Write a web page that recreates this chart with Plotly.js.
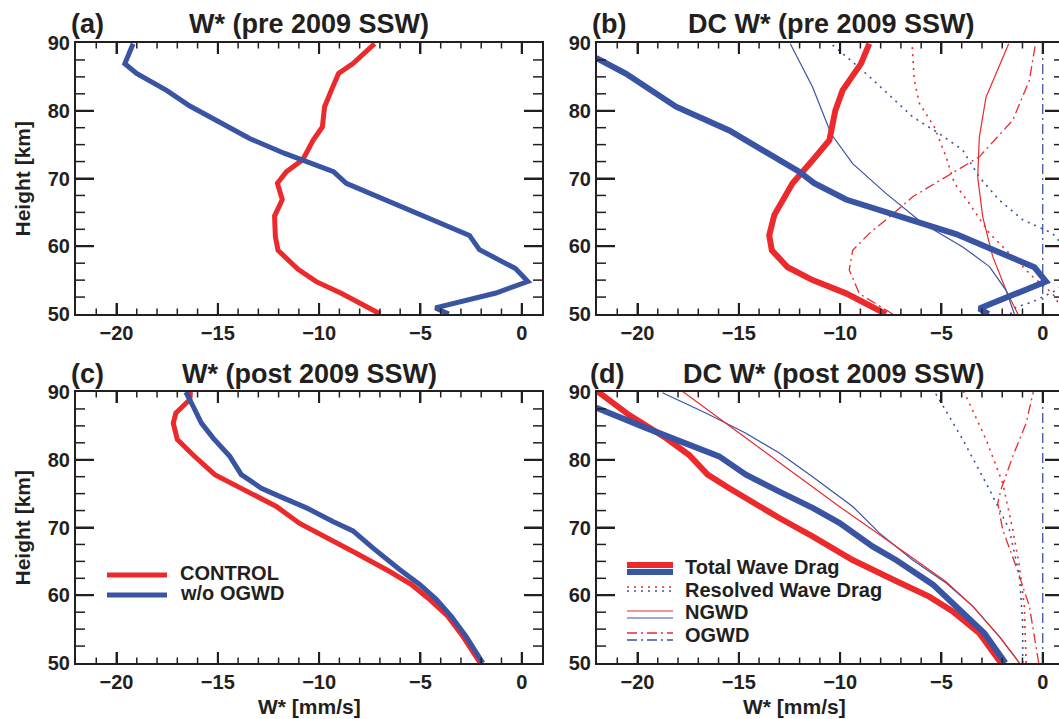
<!DOCTYPE html>
<html>
<head>
<meta charset="utf-8">
<script src="https://cdn.plot.ly/plotly-3.0.1.min.js"></script>
<style>
html,body{margin:0;padding:0;overflow:hidden;background:#fff;}
#wrap{position:relative;width:1064px;height:719px;}
.layer{position:absolute;left:0;top:0;width:1064px;height:719px;}
#ov{pointer-events:none;}
</style>
</head>
<body>
<div id="wrap">
  <div id="pa" class="layer"></div>
  <div id="pb" class="layer"></div>
  <div id="pc" class="layer"></div>
  <div id="pd" class="layer"></div>
  <div id="ov" class="layer"></div>
</div>
<script>
// ---------- DATA (W* in mm/s vs height in km) ----------
// (a) pre 2009 SSW
const preControlX = [-6.98,-8.91,-10.14,-11.04,-12.03,-12.16,-12.2,-11.82,-12.06,-11.62,-10.8,-10.3,-9.84,-9.73,-9.4,-9.04,-8.33,-7.76,-7.26];
const preControlZ = [50,53.05,54.77,56.6,59.4,61.4,64.45,66.9,69.3,71.0,72.8,75.65,77.6,80.6,83.0,85.5,86.95,88.4,89.9];
const preNoOgwdX = [-3.6,-4.26,-1.27,0.30,-0.31,-2.09,-2.58,-8.66,-9.29,-10.63,-11.7,-13.43,-14.74,-16.38,-17.53,-19.01,-19.59,-19.34,-19.18];
const preNoOgwdZ = [50,50.9,53.1,54.8,56.7,59.5,61.6,69.3,71.0,72.5,73.7,75.9,78.1,80.7,83.0,85.5,86.95,88.9,89.9];

// (c) post 2009 SSW
const postControlX = [-2.05,-2.9,-3.65,-4.63,-5.46,-6.52,-8.17,-9.81,-10.96,-12.11,-13.59,-15.15,-16.22,-17.0,-17.2,-17.07,-16.38,-16.35];
const postControlZ = [50,53.9,56.9,59.6,61.6,63.5,66.2,68.9,70.6,73.1,75.3,77.8,80.7,83.0,85.4,86.9,88.9,90];
const postNoOgwdX = [-1.92,-2.74,-3.48,-4.22,-5.04,-6.03,-7.35,-8.33,-9.32,-10.63,-11.95,-12.85,-13.84,-14.41,-15.23,-15.81,-16.22,-16.58];
const postNoOgwdZ = [50,53.9,56.9,59.4,61.6,63.8,67.0,69.5,70.9,72.9,74.6,75.8,77.8,80.5,83.2,85.4,87.9,90];

// (b) DC W* pre 2009 SSW
const bTotCtlX = [-7.74,-9.71,-11.36,-12.59,-13.37,-13.5,-13.25,-12.35,-11.36,-10.53,-10.24,-9.88,-8.97,-8.56];
const bTotCtlZ = [50,53.05,55.0,56.9,59.4,61.6,64.6,69.3,72.7,75.65,80.0,83.0,86.95,89.9];
const bTotNoX = [-2.67,-3.13,0.16,-0.41,-4.28,-5.43,-9.71,-11.28,-12.02,-15.47,-18.1,-20.58,-21.98,-23.0];
const bTotNoZ = [50,50.8,54.8,56.9,61.8,62.9,66.9,69.3,71.0,77.1,80.6,85.5,87.7,88.3];
const bResCtlX = [1.1,0.8,0.49,-0.49,-1.48,-2.63,-3.62,-4.36,-4.77,-5.35,-6.09,-6.34,-6.45];
const bResCtlZ = [50,51.5,53.0,55.5,58.5,61.9,66.3,69.3,73.2,77.6,81.1,84.5,89.9];
const bResNoX = [-1.6,-1.32,-0.49,0.66,1.3,1.3,0.49,-0.99,-2.14,-3.13,-3.95,-5.1,-6.42,-8.72,-10.45];
const bResNoZ = [50,51.0,51.8,53.5,55,59,61.9,63.9,66.8,70.2,74.2,76.6,79.1,85.5,89.9];
const bNgwdCtlX = [-1.23,-1.81,-2.47,-2.96,-3.21,-3.13,-2.80,-1.68];
const bNgwdCtlZ = [50,53.5,58.5,64.3,70.2,76.1,82.0,89.9];
const bNgwdNoX = [-1.40,-1.81,-2.63,-3.95,-5.93,-7.74,-9.38,-10.45,-11.36,-12.46];
const bNgwdNoZ = [50,53.5,57.0,59.9,63.4,67.8,72.2,76.6,83.5,89.9];
const bOgwdCtlX = [-7.41,-9.05,-9.55,-9.38,-8.56,-7.57,-6.42,-4.77,-3.13,-1.48,-0.66,-0.36];
const bOgwdCtlZ = [50,53.0,56.5,59.4,61.9,64.3,67.3,70.2,73.2,78.6,84.5,89.9];
const bOgwdNoX = [0,0];
const bOgwdNoZ = [50,90];

// (d) DC W* post 2009 SSW
const dTotCtlX = [-2.06,-3.13,-4.44,-5.6,-7.24,-9.38,-11.36,-13.0,-15.47,-16.54,-17.45,-18.6,-20.41,-21.98];
const dTotCtlZ = [50,54.4,57.6,59.8,62.1,65.2,68.7,71.4,75.8,77.8,80.7,83.2,86.6,90.1];
const dTotNoX = [-1.84,-2.88,-4.12,-5.43,-7.24,-8.40,-10.04,-11.36,-13.0,-14.65,-15.97,-17.94,-19.59,-21.98,-23.0];
const dTotNoZ = [50,54.4,57.9,61.6,65.2,67.2,70.7,72.9,75.3,77.8,80.5,82.7,84.7,87.6,88.1];
const dResCtlX = [-0.82,-0.91,-1.15,-1.48,-1.98,-2.8,-3.79,-3.9];
const dResCtlZ = [50,58.4,64.3,69.7,76.6,83,89.4,90];
const dResNoX = [-0.99,-0.99,-1.15,-1.65,-2.63,-3.95,-5.35];
const dResNoZ = [50,55.9,62.8,69.7,75.6,83,90.1];
const dNgwdCtlX = [-1.15,-2.14,-3.46,-4.77,-6.42,-8.4,-10.04,-12.18,-14.16,-15.64,-17.78];
const dNgwdCtlZ = [50,53.9,58.4,62.0,65.5,69.7,73.1,77.8,82.2,85.4,90.1];
const dNgwdNoX = [-1.15,-2.14,-3.46,-4.77,-6.42,-8.07,-9.38,-11.36,-13.0,-14.65,-16.63,-18.77];
const dNgwdNoZ = [50,53.9,58.4,61.8,65.2,69.2,73.1,77.5,81.0,83.9,86.9,89.9];
const dOgwdCtlX = [-0.2,-0.66,-1.32,-1.98,-2.22,-2.06,-1.48,-0.82,-0.46];
const dOgwdCtlZ = [50,58.4,64.3,69.7,73.6,75.6,80.5,85.4,90.1];
const dOgwdNoX = [0,0];
const dOgwdNoZ = [50,90];

// axis tick positions
const xMajorTicks = [-20,-15,-10,-5,0];
const xMinorTicks = [-21,-19,-18,-17,-16,-14,-13,-12,-11,-9,-8,-7,-6,-4,-3,-2,-1];
const yMajorTicks = [60,70,80];
const yMinorTicks = [52.5,55,57.5,62.5,65,67.5,72.5,75,77.5,82.5,85,87.5];

const panelTitles = ['W* (pre 2009 SSW)','DC W* (pre 2009 SSW)','W* (post 2009 SSW)','DC W* (post 2009 SSW)'];
const panelLabels = ['(a)','(b)','(c)','(d)'];
const legendC = ['CONTROL','w/o OGWD'];
const legendD = ['Total Wave Drag','Resolved Wave Drag','NGWD','OGWD'];
const xTitle = 'W* [mm/s]';
const yTitle = 'Height [km]';

// ---------- STYLE ----------
const RED = '#ec2a2c';
const BLUE = '#3a54a4';
const INK = '#231f20';
const W = 1064, H = 719;
const PW = 466, PH = 271;
const FONT = 'Liberation Sans, Arial, Helvetica, sans-serif';
const px = x => x / W;
const py = y => 1 - y / H;
const DOT = '2px,5px';
const DASHDOT = '10px,4px,2px,4px';
const CLEAR = 'rgba(0,0,0,0)';
const CFG = {staticPlot: true, displayModeBar: false};

function tr(x, y, color, width, dash) {
  const line = {color: color, width: width};
  if (dash) line.dash = dash;
  return {x: x, y: y, mode: 'lines', line: line};
}

const tickFont = {family: FONT, size: 20, color: INK, weight: 'bold'};
function xax(dom) {
  return {domain: dom, anchor: 'y', range: [-22, 1], tickmode: 'linear', tick0: 0, dtick: 5,
    ticks: 'inside', ticklen: 11, tickwidth: 2, tickcolor: INK, mirror: 'ticks', showline: true,
    linewidth: 2, linecolor: INK, showgrid: false, zeroline: false, tickfont: tickFont};
}
function yax(dom) {
  return {domain: dom, anchor: 'x', range: [50, 90], tickmode: 'linear', tick0: 50, dtick: 10,
    ticks: 'inside', ticklen: 18, tickwidth: 2, tickcolor: INK, mirror: 'ticks', showline: true,
    linewidth: 2, linecolor: INK, showgrid: false, zeroline: false, tickfont: tickFont};
}
// inside tick marks on all four sides, placed through the axis scales
function tickShapes() {
  const s = [];
  function xt(v, len, w) {
    s.push({type: 'line', xref: 'x', yref: 'y domain', x0: v, x1: v, y0: 0, y1: len / PH, line: {color: INK, width: w}});
    s.push({type: 'line', xref: 'x', yref: 'y domain', x0: v, x1: v, y0: 1, y1: 1 - len / PH, line: {color: INK, width: w}});
  }
  function yt(v, len, w) {
    s.push({type: 'line', xref: 'x domain', yref: 'y', x0: 0, x1: len / PW, y0: v, y1: v, line: {color: INK, width: w}});
    s.push({type: 'line', xref: 'x domain', yref: 'y', x0: 1, x1: 1 - len / PW, y0: v, y1: v, line: {color: INK, width: w}});
  }
  xMajorTicks.forEach(v => xt(v, 11, 2));
  xMinorTicks.forEach(v => xt(v, 5.5, 1.5));
  yMajorTicks.forEach(v => yt(v, 18, 2));
  yMinorTicks.forEach(v => yt(v, 9, 1.5));
  return s;
}
function panelLayout(xd, yd) {
  return {width: W, height: H, margin: {l: 0, r: 0, t: 0, b: 0}, showlegend: false,
    paper_bgcolor: CLEAR, plot_bgcolor: CLEAR, xaxis: xax(xd), yaxis: yax(yd), shapes: tickShapes()};
}

const xdL = [px(76), px(542)], xdR = [px(597), px(1063)];
const ydT = [py(314), py(43)], ydB = [py(663), py(392)];

Plotly.newPlot('pa', [
  tr(preControlX, preControlZ, RED, 5),
  tr(preNoOgwdX, preNoOgwdZ, BLUE, 5)
], panelLayout(xdL, ydT), CFG);

Plotly.newPlot('pb', [
  tr(bResCtlX, bResCtlZ, RED, 1.6, DOT),
  tr(bResNoX, bResNoZ, BLUE, 1.6, DOT),
  tr(bNgwdCtlX, bNgwdCtlZ, RED, 1.2),
  tr(bNgwdNoX, bNgwdNoZ, BLUE, 1.2),
  tr(bOgwdCtlX, bOgwdCtlZ, RED, 1.3, DASHDOT),
  tr(bOgwdNoX, bOgwdNoZ, BLUE, 1.3, DASHDOT),
  tr(bTotCtlX, bTotCtlZ, RED, 6),
  tr(bTotNoX, bTotNoZ, BLUE, 6)
], panelLayout(xdR, ydT), CFG);

Plotly.newPlot('pc', [
  tr(postControlX, postControlZ, RED, 5),
  tr(postNoOgwdX, postNoOgwdZ, BLUE, 5)
], panelLayout(xdL, ydB), CFG);

Plotly.newPlot('pd', [
  tr(dResCtlX, dResCtlZ, RED, 1.6, DOT),
  tr(dResNoX, dResNoZ, BLUE, 1.6, DOT),
  tr(dOgwdCtlX, dOgwdCtlZ, RED, 1.3, DASHDOT),
  tr(dOgwdNoX, dOgwdNoZ, BLUE, 1.3, DASHDOT),
  tr(dTotCtlX, dTotCtlZ, RED, 6),
  tr(dTotNoX, dTotNoZ, BLUE, 6),
  tr(dNgwdNoX, dNgwdNoZ, BLUE, 1.2),
  tr(dNgwdCtlX, dNgwdCtlZ, RED, 1.2)
], panelLayout(xdR, ydB), CFG);

// ---------- overlay: titles, axis titles, legends ----------
const annotations = [];
function ann(text, x, y, size, extra) {
  annotations.push(Object.assign({text: text, xref: 'paper', yref: 'paper', x: px(x), y: py(y),
    showarrow: false, xanchor: 'center', yanchor: 'middle', borderpad: 0,
    font: {family: FONT, size: size, color: INK, weight: 'bold'}}, extra || {}));
}
ann(panelTitles[0], 309, 24, 27);
ann(panelTitles[1], 831, 24, 27);
ann(panelTitles[2], 309, 374, 27);
ann(panelTitles[3], 834, 374, 27);
ann(panelLabels[0], 70, 24, 27, {xanchor: 'left'});
ann(panelLabels[1], 591, 24, 27, {xanchor: 'left'});
ann(panelLabels[2], 70, 374, 27, {xanchor: 'left'});
ann(panelLabels[3], 589, 374, 27, {xanchor: 'left'});
ann(yTitle, 22, 178.5, 21, {textangle: -90});
ann(yTitle, 22, 527.5, 21, {textangle: -90});
ann(xTitle, 309, 719, 21, {yanchor: 'bottom'});
ann(xTitle, 794, 719, 21, {yanchor: 'bottom'});
ann(legendC[0], 179, 573, 20, {xanchor: 'left'});
ann(legendC[1], 179, 593, 20, {xanchor: 'left'});
ann(legendD[0], 684, 567, 20, {xanchor: 'left'});
ann(legendD[1], 684, 590, 20, {xanchor: 'left'});
ann(legendD[2], 684, 612, 20, {xanchor: 'left'});
ann(legendD[3], 684, 635, 20, {xanchor: 'left'});

const shapes = [];
function seg(x0, x1, y, color, width, dash) {
  shapes.push({type: 'line', xref: 'paper', yref: 'paper', x0: px(x0), x1: px(x1), y0: py(y), y1: py(y),
    line: {color: color, width: width, dash: dash || 'solid'}});
}
seg(107, 167, 575, RED, 5);
seg(107, 167, 595, BLUE, 5);
seg(627, 673, 565, RED, 6);
seg(627, 673, 572, BLUE, 6);
seg(627, 673, 587, RED, 1.6, DOT);
seg(627, 673, 591, BLUE, 1.6, DOT);
seg(627, 673, 611, RED, 1.2);
seg(627, 673, 618, BLUE, 1.2);
seg(627, 673, 633, RED, 1.3, DASHDOT);
seg(627, 673, 640, BLUE, 1.3, DASHDOT);

Plotly.newPlot('ov', [], {
  width: W, height: H, margin: {l: 0, r: 0, t: 0, b: 0}, showlegend: false,
  paper_bgcolor: CLEAR, plot_bgcolor: CLEAR,
  xaxis: {visible: false, range: [0, 1]}, yaxis: {visible: false, range: [0, 1]},
  annotations: annotations, shapes: shapes
}, CFG);
</script>
</body>
</html>
